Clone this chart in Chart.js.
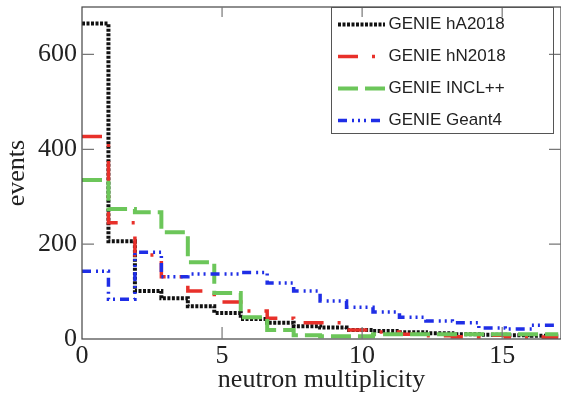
<!DOCTYPE html>
<html>
<head>
<meta charset="utf-8">
<script src="https://cdn.jsdelivr.net/npm/chart.js@4"></script>
<style>
    html, body { margin: 0; padding: 0; background: #fff; }
    #wrap { width: 561px; height: 396px; position: relative; }
</style>
</head>
<body>
<div id="wrap"><canvas id="multChart"></canvas></div>
<script>
// bin edges (18 bins over 0..17)
const binEdges = [0, 0.944, 1.889, 2.833, 3.778, 4.722, 5.667, 6.611, 7.556, 8.5,
    9.444, 10.389, 11.333, 12.278, 13.222, 14.167, 15.111, 16.056, 17];

// events per bin
const hA2018 = [665, 206, 101, 86, 69, 55, 42, 34, 27, 24, 19, 17, 14, 12, 10, 9, 8, 7];
const hN2018 = [427, 245, 177, 131, 101, 78, 59, 44, 34, 34, 19, 15, 10, 7, 5, 8, 5, 4];
const inclpp = [335, 274, 267, 225, 162, 97, 46, 19, 8, 6, 6, 10, 10, 10, 10, 10, 10, 10];
const geant4 = [143, 84, 183, 131, 137, 137, 140, 118, 101, 80, 67, 57, 46, 38, 34, 23, 21, 29];

const seriesNames = ['GENIE hA2018', 'GENIE hN2018', 'GENIE INCL++', 'GENIE Geant4'];

const yTicks = [0, 200, 400, 600];
const xTicks = [0, 5, 10, 15];

// histogram -> step points (left edge + closing right edge)
function toSteps(values) {
    const pts = values.map((v, i) => ({ x: binEdges[i], y: v }));
    pts.push({ x: binEdges[values.length], y: values[values.length - 1] });
    return pts;
}

const LEG_PAD = 15, LEG_ROW = 17;

// frame, inward ticks and legend box
const framePlugin = {
    id: 'frame',
    afterLayout(chart) {
        const lg = chart.legend;
        if (lg) {
            lg.left = 318;
            lg.top = 1;
        }
    },
    afterDraw(chart) {
        const { ctx, chartArea: a } = chart;
        const xs = chart.scales.x, ys = chart.scales.y;
        ctx.save();
        ctx.strokeStyle = '#444';
        ctx.lineWidth = 1.2;
        ctx.strokeRect(a.left, a.top, a.right - a.left, a.bottom - a.top);
        ctx.strokeStyle = '#777';
        ctx.beginPath();
        yTicks.forEach(v => {
            const p = ys.getPixelForValue(v);
            if (v === 0) return;
            ctx.moveTo(a.left, p); ctx.lineTo(a.left + 12, p);
            ctx.moveTo(a.right, p); ctx.lineTo(a.right - 12, p);
        });
        xTicks.forEach(v => {
            const p = xs.getPixelForValue(v);
            if (v === 0) return;
            ctx.moveTo(p, a.bottom); ctx.lineTo(p, a.bottom - 12);
            ctx.moveTo(p, a.top); ctx.lineTo(p, a.top + 10);
        });
        ctx.stroke();

        // legend box + line samples
        ctx.strokeStyle = '#555';
        ctx.lineWidth = 1;
        ctx.strokeRect(331.5, 7.5, 222, 126);
        const top = chart.legend.top;
        chart.data.datasets.forEach((ds, i) => {
            const y = top + LEG_PAD + i * (LEG_ROW + LEG_PAD) + LEG_ROW / 2;
            ctx.strokeStyle = ds.borderColor;
            ctx.lineWidth = ds.borderWidth;
            ctx.setLineDash(ds.borderDash);
            ctx.beginPath();
            ctx.moveTo(338, y);
            ctx.lineTo(385, y);
            ctx.stroke();
        });
        ctx.restore();
    }
};

function initChart() {
    const ctx = document.getElementById('multChart').getContext('2d');
    const common = { fill: false, pointRadius: 0, stepped: 'before', tension: 0 };

    new Chart(ctx, {
        type: 'line',
        data: {
            datasets: [
                {
                    ...common, label: seriesNames[0], data: toSteps(hA2018),
                    borderColor: '#111', backgroundColor: '#111',
                    borderWidth: 4, borderDash: [3, 1.5], order: 4
                },
                {
                    ...common, label: seriesNames[1], data: toSteps(hN2018),
                    borderColor: '#e8302a', backgroundColor: '#e8302a',
                    borderWidth: 3.5, borderDash: [20, 14, 3, 14], order: 3
                },
                {
                    ...common, label: seriesNames[2], data: toSteps(inclpp),
                    borderColor: '#6cc65a', backgroundColor: '#6cc65a',
                    borderWidth: 4, borderDash: [20, 7], order: 2
                },
                {
                    ...common, label: seriesNames[3], data: toSteps(geant4),
                    borderColor: '#1f2ee6', backgroundColor: '#1f2ee6',
                    borderWidth: 3.5, borderDash: [9, 5, 2, 4, 2, 4, 2, 5], order: 1
                }
            ]
        },
        options: {
            responsive: true,
            maintainAspectRatio: false,
            animation: false,
            layout: { padding: { top: 7, left: 0, right: 0, bottom: 0 } },
            plugins: {
                legend: {
                    position: 'chartArea',
                    align: 'start',
                    labels: {
                        usePointStyle: true,
                        pointStyle: 'line',
                        pointStyleWidth: 47,
                        boxHeight: 14,
                        padding: LEG_PAD,
                        color: '#222',
                        font: { family: 'Liberation Sans', size: LEG_ROW },
                        sort: (a, b) => a.datasetIndex - b.datasetIndex,
                        generateLabels: chart =>
                            Chart.defaults.plugins.legend.labels.generateLabels(chart)
                                .map(it => ({ ...it, strokeStyle: 'rgba(0,0,0,0)', fillStyle: 'rgba(0,0,0,0)', lineWidth: 0 }))
                    }
                },
                tooltip: { enabled: false }
            },
            scales: {
                x: {
                    type: 'linear',
                    min: 0,
                    max: 17.1,
                    afterBuildTicks: s => { s.ticks = xTicks.map(v => ({ value: v })); },
                    afterFit: s => { s.height = 57; s.paddingLeft = 0; s.paddingRight = 0; },
                    grid: { display: false, drawTicks: false },
                    border: { display: false },
                    ticks: {
                        padding: 2,
                        maxRotation: 0,
                        color: '#222',
                        font: { family: 'Liberation Serif', size: 26 }
                    },
                    title: {
                        display: true,
                        text: 'neutron multiplicity',
                        color: '#222',
                        padding: { top: 0, bottom: 0 },
                        font: { family: 'Liberation Serif', size: 26 }
                    }
                },
                y: {
                    min: 0,
                    max: 700,
                    afterBuildTicks: s => { s.ticks = yTicks.map(v => ({ value: v })); },
                    afterFit: s => { s.width = 82; s.paddingTop = 0; s.paddingBottom = 0; },
                    grid: { display: false, drawTicks: false },
                    border: { display: false },
                    ticks: {
                        padding: 5,
                        color: '#222',
                        font: { family: 'Liberation Serif', size: 26 }
                    },
                    title: {
                        display: true,
                        text: 'events',
                        color: '#222',
                        padding: { top: 2, bottom: 0 },
                        font: { family: 'Liberation Serif', size: 26 }
                    }
                }
            }
        },
        plugins: [framePlugin]
    });
}

document.addEventListener('DOMContentLoaded', initChart);
</script>
</body>
</html>
